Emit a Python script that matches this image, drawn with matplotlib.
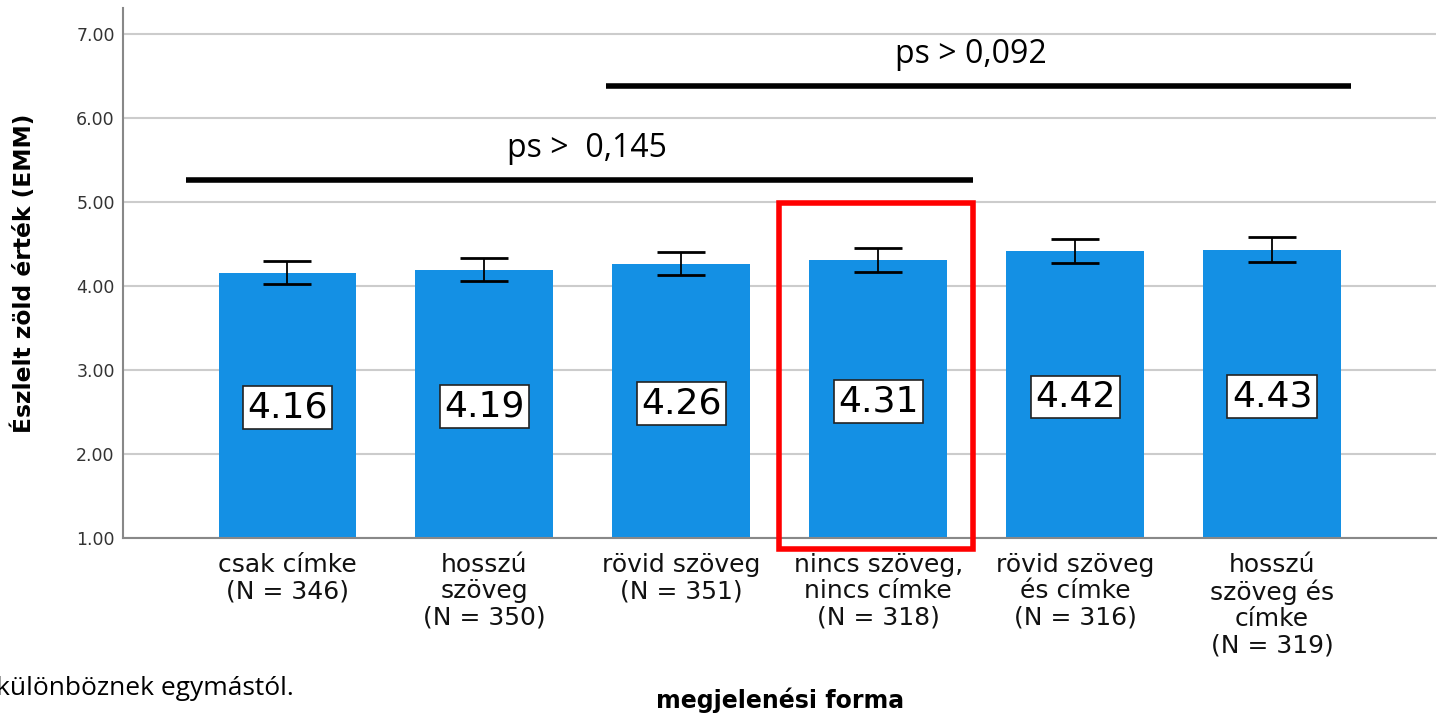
import numpy as np
import matplotlib.pyplot as plt
from matplotlib.patches import Rectangle

categories = ['csak címke\n(N = 346)', 'hosszú\nszöveg\n(N = 350)', 'rövid szöveg\n(N = 351)',
              'nincs szöveg,\nnincs címke\n(N = 318)', 'rövid szöveg\nés címke\n(N = 316)',
              'hosszú\nszöveg és\ncímke\n(N = 319)']
means = [4.16, 4.19, 4.26, 4.31, 4.42, 4.43]
err_lo = [0.13, 0.13, 0.13, 0.14, 0.14, 0.14]
err_hi = [0.14, 0.14, 0.14, 0.14, 0.14, 0.15]
labels = ['4.16', '4.19', '4.26', '4.31', '4.42', '4.43']

fig = plt.figure(figsize=(14.48, 7.16), dpi=100)
ax = fig.add_axes([0.085, 0.2486, 0.907, 0.7402])

x = np.arange(len(means))
ax.bar(x, np.array(means) - 1, bottom=1, width=0.7, color='#1490e4', zorder=2)
ax.errorbar(x, means, yerr=[err_lo, err_hi], fmt='none', ecolor='black',
            elinewidth=1.3, capsize=17.5, capthick=2, zorder=3)

for xi, m, lab in zip(x, means, labels):
    ax.text(xi, (1 + m) / 2 - 0.03, lab, ha='center', va='center', fontsize=26,
            family='DejaVu Sans', zorder=4,
            bbox=dict(boxstyle='square,pad=0.12', facecolor='white', edgecolor='#222222', linewidth=1.2))

ax.set_xlim(-0.835, 5.835)
ax.set_ylim(1, 7.31)
ax.set_yticks([1, 2, 3, 4, 5, 6, 7])
ax.set_yticklabels(['%.2f' % v for v in [1, 2, 3, 4, 5, 6, 7]], fontsize=12.5, color='#333333')
ax.set_xticks(x)
ax.set_xticklabels(categories, fontsize=18, linespacing=1.11, family='DejaVu Sans', color='#111111')
ax.tick_params(axis='both', length=0, pad=6)
ax.tick_params(axis='x', pad=11)
ax.grid(axis='y', color='#cccccc', linewidth=1.5, zorder=0)
ax.set_axisbelow(True)
for s in ['top', 'right']:
    ax.spines[s].set_visible(False)
for s in ['left', 'bottom']:
    ax.spines[s].set_color('#888888')
    ax.spines[s].set_linewidth(1.5)

# significance lines
ax.plot([-0.513, 3.48], [5.26, 5.26], color='black', linewidth=4, solid_capstyle='butt', zorder=3)
ax.plot([1.62, 5.40], [6.38, 6.38], color='black', linewidth=4, solid_capstyle='butt', zorder=3)
ax.text(1.52, 5.64, 'ps >  0,145', ha='center', va='center', fontsize=23, family='Open Sans')
ax.text(3.47, 6.76, 'ps > 0,092', ha='center', va='center', fontsize=23, family='Open Sans')

# highlight box
ax.add_patch(Rectangle((2.495, 0.87), 0.985, 4.12, fill=False, edgecolor='red',
                       linewidth=4, clip_on=False, zorder=5))

ax.set_ylabel('Észlelt zöld érték (EMM)', fontsize=16.8, fontweight='bold')
ax.yaxis.set_label_coords(-0.066, 0.50)
fig.text(0.539, 0.022, 'megjelenési forma', ha='center', va='center', fontsize=17, fontweight='bold')
fig.text(-0.003, 0.039, 'különböznek egymástól.', ha='left', va='center', fontsize=19, family='Open Sans')

fig.savefig('out.png', dpi=100)
